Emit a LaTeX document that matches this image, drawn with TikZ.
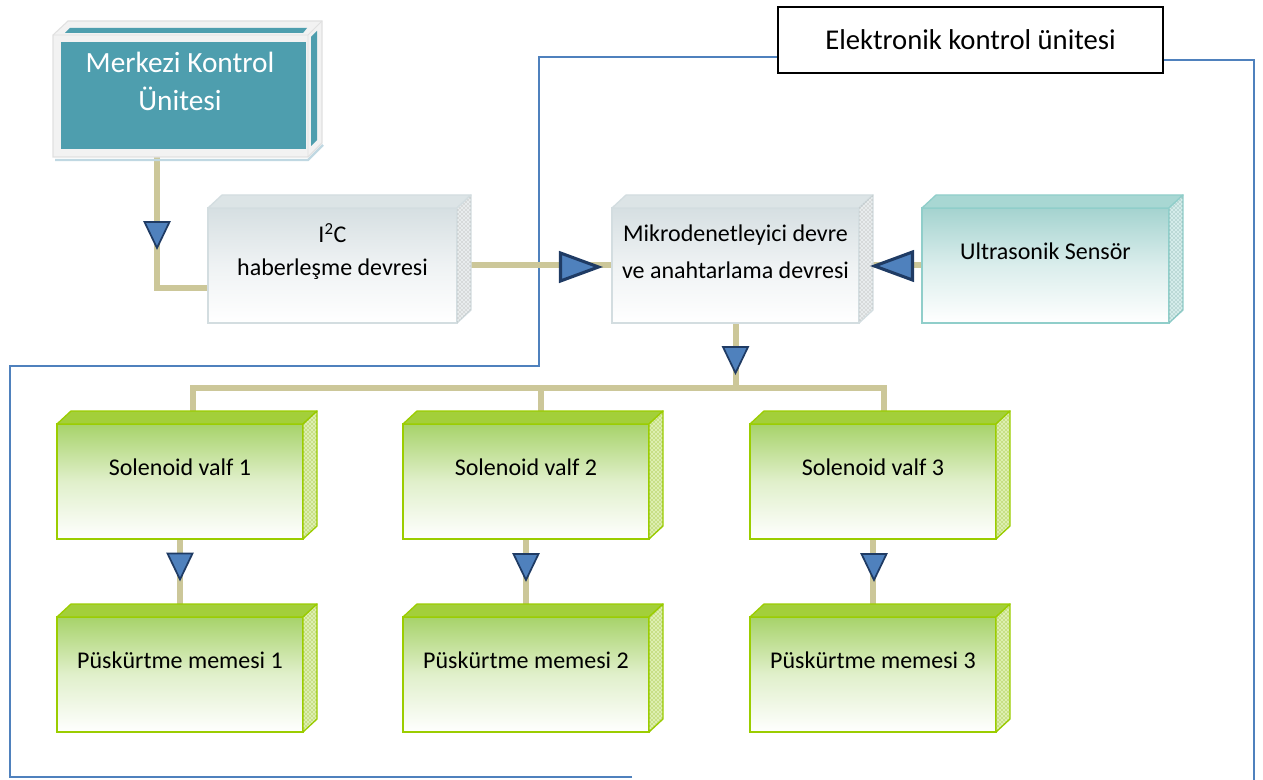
\documentclass[tikz,border=0pt]{standalone}
\usepackage{fontspec}
\setmainfont{Carlito}
\usetikzlibrary{calc,patterns,backgrounds}
\definecolor{connc}{HTML}{CCC799}
\definecolor{bluec}{HTML}{4F81BD}
\definecolor{tric}{HTML}{4F81BD}
\definecolor{trie}{HTML}{1F3B64}
\definecolor{gedge}{HTML}{9BCD00}
\definecolor{gtop}{HTML}{A7D36A}
\definecolor{gface}{HTML}{A3CF3A}
\definecolor{gside}{HTML}{DDEFB0}
\definecolor{sedge}{HTML}{D3DDE0}
\definecolor{stop}{HTML}{D6DFE2}
\definecolor{sface}{HTML}{DCE4E6}
\definecolor{sside}{HTML}{E8ECED}
\definecolor{tedge}{HTML}{90CECA}
\definecolor{ttop}{HTML}{A4D3CF}
\definecolor{tface}{HTML}{A8D7D3}
\definecolor{tside}{HTML}{D4ECEA}
\definecolor{mteal}{HTML}{4E9EAE}
\definecolor{mframe}{HTML}{F2F2F2}
\newcommand\cubefaces[5]{%
  \filldraw[fill=#2, draw=#4, line width=1pt, line join=round]
    (#1.north west) -- ++(14,-13) -- ($(#1.north east)+(14,-13)$) -- (#1.north east) -- cycle;
  \filldraw[fill=#5, draw=#4, line width=1pt, line join=round,
    postaction={pattern=crosshatch dots, pattern color=#3}]
    (#1.north east) -- ++(14,-13) -- ($(#1.south east)+(14,-13)$) -- (#1.south east) -- cycle;
}
\tikzset{
  conn/.style={draw=connc, line width=4.5pt},
  blueln/.style={draw=bluec, line width=1.5pt},
  tri/.style={fill=tric, draw=trie, line width=1.3pt, line join=miter},
  trib/.style={fill=tric, draw=trie, line width=2.3pt, line join=miter},
  front/.style 2 args={minimum width=#1*0.75pt, minimum height=#2*0.75pt, inner sep=0pt, outer sep=0pt, line width=1.5pt},
  gbox/.style={draw=gedge, top color=gtop, bottom color=white, middle color=gtop!35!white},
  sbox/.style={draw=sedge, top color=stop, bottom color=white, middle color=stop!40!white},
  tbox/.style={draw=tedge, top color=ttop, bottom color=white, middle color=ttop!40!white},
  lbl/.style={font=\fontsize{18}{27}\selectfont, align=center, text=black, inner sep=0pt},
  tridown/.pic={\path[tri] (-12.5,-13) -- (12.5,-13) -- (0,13) -- cycle;},
  triright/.pic={\path[trib] (-19,-14) -- (-19,14) -- (19,0) -- cycle;},
  trileft/.pic={\path[trib] (19,-14) -- (19,14) -- (-19,0) -- cycle;},
}
\begin{document}
\begin{tikzpicture}[x=0.75pt,y=-0.75pt]
\useasboundingbox (0,0) rectangle (1263,780);

% Merkezi kontrol unitesi
\draw[draw=black!12, fill=mframe, line width=0.8pt] (53,157) -- (53,35) -- (68,21) -- (322,21) -- (322,143) -- (308,157) -- cycle;
\draw[draw=black!12, line width=0.6pt] (53,35) -- (308,35) -- (322,21) (308,35) -- (308,157);
\draw[draw=gray!60!cyan!40, line width=1.8pt] (55,160) -- (308,160) -- (323,145);
\node[front={255}{122}] (mk) at (180.5,96) {};
\fill[mteal] ($(mk.north west)+(8,7)$) rectangle ($(mk.south east)+(-2,-8)$);
\fill[mteal] (65,33) -- (70,28) -- (307,28) -- (303,33) -- cycle;
\fill[mteal] (311,37) -- (317,31) -- (317,140) -- (311,146) -- cycle;
\node[lbl, text=white, font=\fontsize{22}{28.5}\selectfont] (mkt) at (180,81) {Merkezi Kontrol\\Ünitesi};

% Elektronik kontrol unitesi
\node[draw=black, line width=1.2pt, fill=white, minimum width=385*0.75pt, minimum height=66*0.75pt, inner sep=0pt,
      font=\fontsize{21.5}{26}\selectfont] (ek) at (970.5,40) {Elektronik kontrol ünitesi};

% middle row
\node[front={249}{115}, sbox] (i2c) at (332.5,265.5) {};
\cubefaces{i2c}{sface}{gray!75}{sedge}{sside}
\node[lbl, font=\fontsize{18}{25}\selectfont] (i2ct) at ($(i2c)+(0,-14)$) {I\textsuperscript{2}C\\haberleşme devresi};

\node[front={247}{115}, sbox] (mik) at (735.5,265.5) {};
\cubefaces{mik}{sface}{gray!75}{sedge}{sside}
\node[lbl, font=\fontsize{18}{28}\selectfont] (mikt) at ($(mik)+(0,-14)$) {Mikrodenetleyici devre\\ve anahtarlama devresi};

\node[front={247}{115}, tbox] (ult) at (1045.5,265.5) {};
\cubefaces{ult}{tface}{tedge!75!black}{tedge}{tside}
\node[lbl] (ultt) at ($(ult)+(0,-14)$) {Ultrasonik Sensör};

% solenoid valves
\node[front={246}{115}, gbox] (s1) at (180,481.5) {};
\cubefaces{s1}{gface}{gedge!85!black}{gedge}{gside}
\node[lbl] (s1t) at ($(s1)+(0,-14)$) {Solenoid valf 1};
\node[front={246}{115}, gbox] (s2) at (526,481.5) {};
\cubefaces{s2}{gface}{gedge!85!black}{gedge}{gside}
\node[lbl] (s2t) at ($(s2)+(0,-14)$) {Solenoid valf 2};
\node[front={246}{115}, gbox] (s3) at (873,481.5) {};
\cubefaces{s3}{gface}{gedge!85!black}{gedge}{gside}
\node[lbl] (s3t) at ($(s3)+(0,-14)$) {Solenoid valf 3};

% nozzles
\node[front={246}{115}, gbox] (p1) at (180,674.5) {};
\cubefaces{p1}{gface}{gedge!85!black}{gedge}{gside}
\node[lbl] (p1t) at ($(p1)+(0,-14)$) {Püskürtme memesi 1};
\node[front={246}{115}, gbox] (p2) at (526,674.5) {};
\cubefaces{p2}{gface}{gedge!85!black}{gedge}{gside}
\node[lbl] (p2t) at ($(p2)+(0,-14)$) {Püskürtme memesi 2};
\node[front={246}{115}, gbox] (p3) at (873,674.5) {};
\cubefaces{p3}{gface}{gedge!85!black}{gedge}{gside}
\node[lbl] (p3t) at ($(p3)+(0,-14)$) {Püskürtme memesi 3};

% helper coordinates
\coordinate (j1) at (157,288);
\coordinate (d1) at (193,388);
\coordinate (d2) at (541,388);
\coordinate (d3) at (884,388);
\coordinate (bA) at (632,777);
\coordinate (bB) at (10,777);
\coordinate (bC) at (10,366);
\coordinate (bD) at (539,366);
\coordinate (bE) at (539,57);
\coordinate (bF) at (1254,60);
\coordinate (bG) at (1254,781);

\begin{scope}[on background layer]
  \draw[blueln] (bA) -- (bB) -- (bC) -- (bD) -- (bE) -- (bE -| ek.west);
  \draw[blueln] (ek.east |- bF) -- (bF) -- (bG);
  \draw[conn] (mk.south -| j1) -- (j1) -- (i2c.west |- j1);
  \draw[conn] (i2c.east) -- (mik.west);
  \draw[conn] (ult.west) -- (mik.east);
  \draw[conn] (mik.south) -- (mik.south |- d1);
  \draw[conn] (d1 |- s1.north) -- (d1) -- (d3) -- (d3 |- s3.north);
  \draw[conn] (d2) -- (d2 |- s2.north);
  \draw[conn] (s1.south) -- (p1.north);
  \draw[conn] (s2.south) -- (p2.north);
  \draw[conn] (s3.south) -- (p3.north);
\end{scope}

% arrow heads
\pic at (157,235) {tridown};
\pic at (735.5,360) {tridown};
\pic at (180,566.5) {tridown};
\pic at (526,567) {tridown};
\pic at (874,567) {tridown};
\pic at (579.5,267) {triright};
\pic at (893.5,266) {trileft};
\end{tikzpicture}
\end{document}
